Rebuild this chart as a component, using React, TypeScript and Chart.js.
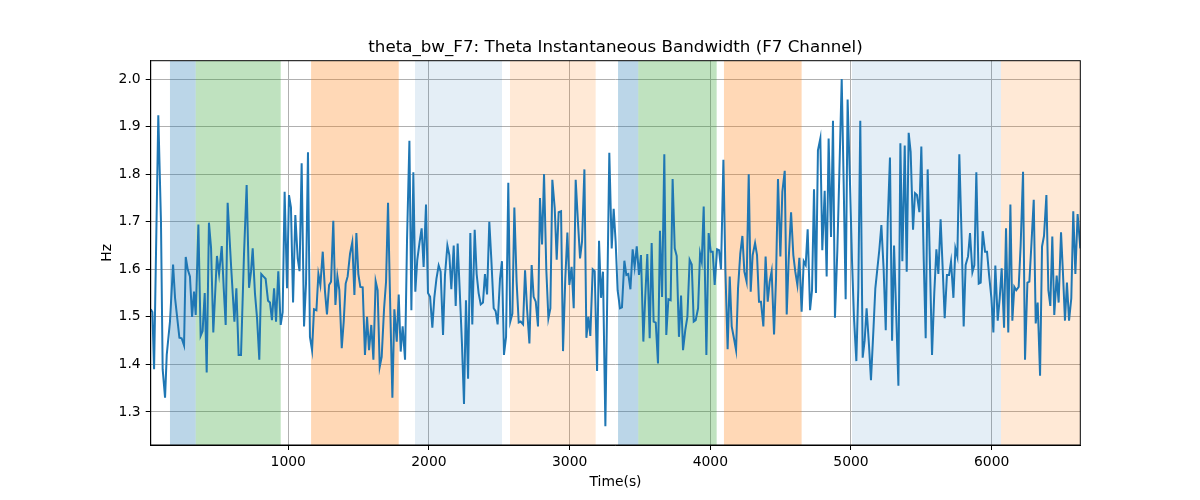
import { useEffect, useRef } from "react";
import { Chart, registerables } from "chart.js";

Chart.register(...registerables);

const chartTitle = "theta_bw_F7: Theta Instantaneous Bandwidth (F7 Channel)";
const xLabel = "Time(s)";
const yLabel = "Hz";

// sample times (s)
const timeSec = [
  22, 34, 46, 76, 95, 107, 124, 136, 159, 181, 195, 226, 242, 259, 271, 285, 301, 316, 330, 342,
  361, 377, 391, 406, 420, 436, 451, 467, 493, 508, 527, 541, 555, 569, 593, 617, 631, 647, 664, 685,
  704, 721, 735, 747, 763, 778, 794, 808, 823, 839, 856, 870, 884, 899, 913, 929, 946, 960, 974, 991,
  1005, 1019, 1034, 1050, 1067, 1080, 1095, 1112, 1126, 1140, 1154, 1169, 1183, 1200, 1214, 1228, 1245, 1261, 1275, 1290,
  1304, 1320, 1335, 1349, 1363, 1380, 1394, 1408, 1422, 1439, 1455, 1470, 1484, 1498, 1512, 1529, 1545, 1560, 1574, 1590,
  1605, 1621, 1635, 1650, 1664, 1681, 1695, 1709, 1726, 1740, 1754, 1771, 1785, 1799, 1813, 1830, 1844, 1861, 1875, 1889,
  1903, 1917, 1934, 1948, 1962, 1979, 1993, 2008, 2024, 2038, 2053, 2069, 2083, 2100, 2114, 2131, 2145, 2159, 2176, 2190,
  2204, 2218, 2235, 2249, 2263, 2278, 2294, 2308, 2325, 2339, 2353, 2368, 2384, 2398, 2413, 2429, 2443, 2460, 2474, 2488,
  2505, 2519, 2533, 2548, 2564, 2578, 2593, 2607, 2623, 2638, 2652, 2669, 2683, 2697, 2714, 2730, 2744, 2759, 2775, 2789,
  2804, 2818, 2834, 2849, 2863, 2877, 2894, 2908, 2922, 2939, 2953, 2969, 2984, 2998, 3014, 3029, 3043, 3059, 3074, 3088,
  3105, 3119, 3133, 3147, 3164, 3178, 3195, 3209, 3223, 3237, 3254, 3282, 3299, 3313, 3327, 3341, 3358, 3372, 3389, 3403,
  3417, 3432, 3448, 3462, 3477, 3493, 3507, 3524, 3538, 3552, 3569, 3583, 3597, 3612, 3628, 3642, 3657, 3673, 3687, 3702,
  3718, 3732, 3747, 3761, 3777, 3792, 3806, 3822, 3837, 3853, 3868, 3882, 3896, 3913, 3927, 3939, 3953, 3972, 3988, 4003,
  4017, 4031, 4048, 4062, 4076, 4093, 4107, 4123, 4138, 4152, 4168, 4183, 4197, 4213, 4228, 4242, 4258, 4273, 4287, 4301,
  4318, 4332, 4346, 4360, 4377, 4393, 4408, 4422, 4436, 4453, 4467, 4481, 4498, 4512, 4529, 4543, 4557, 4574, 4590, 4604,
  4619, 4633, 4649, 4664, 4678, 4692, 4709, 4723, 4737, 4751, 4765, 4782, 4796, 4813, 4827, 4841, 4858, 4872, 4886, 4903,
  4917, 4934, 4948, 4962, 4976, 4993, 5007, 5021, 5038, 5052, 5066, 5083, 5097, 5111, 5128, 5142, 5159, 5173, 5187, 5201,
  5216, 5232, 5247, 5261, 5277, 5292, 5306, 5322, 5337, 5351, 5365, 5382, 5396, 5410, 5424, 5441, 5455, 5469, 5486, 5500,
  5517, 5531, 5545, 5562, 5576, 5592, 5607, 5621, 5637, 5652, 5666, 5682, 5697, 5711, 5728, 5742, 5756, 5770, 5787, 5801,
  5815, 5832, 5846, 5863, 5877, 5891, 5908, 5922, 5936, 5953, 5967, 5981, 5998, 6012, 6026, 6043, 6057, 6071, 6088, 6102,
  6118, 6133, 6147, 6161, 6175, 6192, 6206, 6223, 6237, 6254, 6268, 6282, 6299, 6313, 6327, 6344, 6358, 6372, 6389, 6403,
  6417, 6431, 6445, 6462, 6476, 6493, 6507, 6521, 6535, 6550, 6566, 6580, 6595, 6611, 6630,
];

// instantaneous bandwidth (Hz)
const bandwidthHz = [
  1.516, 1.51, 1.39, 1.924, 1.70, 1.39, 1.33, 1.42, 1.49, 1.61, 1.54, 1.456, 1.455, 1.44, 1.626, 1.60, 1.585, 1.50, 1.553, 1.504,
  1.694, 1.46, 1.47, 1.55, 1.383, 1.698, 1.645, 1.467, 1.628, 1.59, 1.649, 1.56, 1.483, 1.74, 1.609, 1.49, 1.56, 1.42, 1.42, 1.63,
  1.777, 1.561, 1.595, 1.644, 1.55, 1.497, 1.41, 1.59, 1.585, 1.58, 1.534, 1.53, 1.493, 1.56, 1.49, 1.596, 1.483, 1.51, 1.763, 1.56,
  1.756, 1.73, 1.53, 1.714, 1.623, 1.596, 1.823, 1.48, 1.57, 1.846, 1.458, 1.43, 1.516, 1.514, 1.59, 1.567, 1.637, 1.553, 1.505, 1.567,
  1.574, 1.702, 1.525, 1.585, 1.556, 1.434, 1.49, 1.57, 1.585, 1.633, 1.657, 1.546, 1.676, 1.59, 1.563, 1.562, 1.42, 1.50, 1.43, 1.483,
  1.41, 1.575, 1.556, 1.395, 1.416, 1.518, 1.574, 1.74, 1.504, 1.33, 1.516, 1.448, 1.547, 1.427, 1.48, 1.41, 1.66, 1.87, 1.514, 1.804,
  1.553, 1.62, 1.658, 1.686, 1.605, 1.736, 1.55, 1.542, 1.477, 1.54, 1.58, 1.608, 1.595, 1.462, 1.588, 1.65, 1.63, 1.558, 1.65, 1.523,
  1.654, 1.56, 1.44, 1.317, 1.535, 1.37, 1.676, 1.484, 1.683, 1.59, 1.55, 1.526, 1.53, 1.59, 1.547, 1.70, 1.623, 1.518, 1.512, 1.484,
  1.58, 1.617, 1.42, 1.458, 1.782, 1.49, 1.507, 1.73, 1.574, 1.488, 1.49, 1.484, 1.598, 1.518, 1.444, 1.609, 1.542, 1.532, 1.48, 1.75,
  1.652, 1.80, 1.60, 1.497, 1.518, 1.788, 1.728, 1.62, 1.72, 1.722, 1.428, 1.58, 1.677, 1.567, 1.605, 1.518, 1.788, 1.70, 1.623, 1.658,
  1.81, 1.456, 1.50, 1.46, 1.60, 1.596, 1.386, 1.66, 1.54, 1.595, 1.27, 1.845, 1.644, 1.727, 1.658, 1.556, 1.518, 1.52, 1.618, 1.588,
  1.59, 1.558, 1.642, 1.605, 1.648, 1.588, 1.63, 1.448, 1.546, 1.632, 1.455, 1.655, 1.49, 1.488, 1.402, 1.681, 1.542, 1.842, 1.462, 1.537,
  1.535, 1.79, 1.644, 1.628, 1.458, 1.545, 1.43, 1.472, 1.50, 1.62, 1.61, 1.49, 1.493, 1.518, 1.633, 1.616, 1.732, 1.42, 1.676, 1.637,
  1.637, 1.567, 1.642, 1.64, 1.60, 1.83, 1.60, 1.432, 1.585, 1.48, 1.455, 1.43, 1.56, 1.633, 1.67, 1.595, 1.574, 1.80, 1.553, 1.63,
  1.655, 1.63, 1.532, 1.532, 1.48, 1.627, 1.532, 1.574, 1.596, 1.463, 1.58, 1.79, 1.627, 1.763, 1.807, 1.505, 1.62, 1.72, 1.63, 1.595,
  1.567, 1.624, 1.511, 1.617, 1.609, 1.684, 1.514, 1.556, 1.768, 1.55, 1.85, 1.875, 1.64, 1.765, 1.585, 1.875, 1.668, 1.912, 1.498, 1.64,
  1.80, 2.0, 1.78, 1.537, 1.957, 1.78, 1.62, 1.50, 1.407, 1.56, 1.912, 1.414, 1.45, 1.518, 1.44, 1.367, 1.47, 1.56, 1.60, 1.64,
  1.693, 1.60, 1.472, 1.70, 1.835, 1.45, 1.65, 1.50, 1.355, 1.865, 1.617, 1.86, 1.595, 1.887, 1.847, 1.683, 1.76, 1.756, 1.72, 1.858,
  1.62, 1.455, 1.81, 1.60, 1.42, 1.55, 1.642, 1.59, 1.705, 1.60, 1.497, 1.588, 1.588, 1.616, 1.54, 1.644, 1.627, 1.842, 1.66, 1.48,
  1.609, 1.627, 1.676, 1.594, 1.609, 1.804, 1.57, 1.572, 1.68, 1.637, 1.637, 1.59, 1.54, 1.467, 1.608, 1.492, 1.539, 1.602, 1.477, 1.686,
  1.467, 1.736, 1.492, 1.563, 1.556, 1.563, 1.65, 1.805, 1.41, 1.572, 1.574, 1.65, 1.746, 1.486, 1.53, 1.376, 1.648, 1.67, 1.756, 1.556,
  1.523, 1.669, 1.504, 1.587, 1.53, 1.678, 1.59, 1.492, 1.572, 1.492, 1.539, 1.722, 1.59, 1.716, 1.644,
];

// shaded intervals (start, end in s) and their fills
const spanStart = [159, 342, 1162, 1901, 2576, 3344, 3488, 4097, 5007, 6066];
const spanEnd = [342, 946, 1785, 2519, 3185, 3488, 4045, 4649, 6066, 6630];
const spanFill = [
  "rgba(31,119,180,0.3)",
  "rgba(44,160,44,0.3)",
  "rgba(255,127,14,0.3)",
  "rgba(31,119,180,0.12)",
  "rgba(255,127,14,0.17)",
  "rgba(31,119,180,0.3)",
  "rgba(44,160,44,0.3)",
  "rgba(255,127,14,0.3)",
  "rgba(31,119,180,0.12)",
  "rgba(255,127,14,0.17)",
];

const xTicks = [1000, 2000, 3000, 4000, 5000, 6000];
const yTicks = [1.3, 1.4, 1.5, 1.6, 1.7, 1.8, 1.9, 2.0];

const FONT = "'DejaVu Sans', sans-serif";

const spansPlugin = {
  id: "spans",
  beforeDatasetsDraw(chart: any) {
    const { ctx, chartArea, scales } = chart;
    ctx.save();
    ctx.beginPath();
    ctx.rect(chartArea.left, chartArea.top, chartArea.right - chartArea.left, chartArea.bottom - chartArea.top);
    ctx.clip();
    spanStart.forEach((s, i) => {
      const x0 = scales.x.getPixelForValue(s);
      const x1 = scales.x.getPixelForValue(spanEnd[i]);
      ctx.fillStyle = spanFill[i];
      ctx.fillRect(x0, chartArea.top, x1 - x0, chartArea.bottom - chartArea.top);
    });
    ctx.restore();
  },
  afterDraw(chart: any) {
    const { ctx, chartArea } = chart;
    ctx.save();
    ctx.strokeStyle = "#000";
    ctx.lineWidth = 1;
    ctx.strokeRect(chartArea.left, chartArea.top, chartArea.right - chartArea.left, chartArea.bottom - chartArea.top);
    ctx.fillStyle = "#000";
    ctx.textAlign = "center";
    ctx.textBaseline = "alphabetic";
    const cx = (chartArea.left + chartArea.right) / 2;
    ctx.font = `16.7px ${FONT}`;
    ctx.fillText(chartTitle, cx, chartArea.top - 8.3);
    ctx.font = `13.9px ${FONT}`;
    ctx.fillText(xLabel, cx, 486);
    ctx.translate(111, (chartArea.top + chartArea.bottom) / 2);
    ctx.rotate(-Math.PI / 2);
    ctx.fillText(yLabel, 0, 0);
    ctx.restore();
  },
};

export default function App() {
  const canvasRef = useRef<HTMLCanvasElement | null>(null);

  useEffect(() => {
    document.body.style.margin = "0";
    const ctx = canvasRef.current!.getContext("2d")!;
    const chart = new Chart(ctx, {
      type: "line",
      data: {
        datasets: [
          {
            label: "theta_bw_F7",
            data: timeSec.map((t, i) => ({ x: t, y: bandwidthHz[i] })),
            borderColor: "#1f77b4",
            borderWidth: 2,
            pointRadius: 0,
            tension: 0,
            fill: false,
          },
        ],
      },
      options: {
        responsive: false,
        animation: false,
        devicePixelRatio: 1,
        layout: { padding: { left: 0, right: 119.7, top: 60.7, bottom: 0 } },
        plugins: {
          legend: { display: false },
          title: { display: false },
          tooltip: { enabled: false },
        },
        scales: {
          x: {
            type: "linear",
            min: timeSec[0],
            max: timeSec[timeSec.length - 1],
            afterBuildTicks: (s: any) => {
              s.ticks = xTicks.map((v) => ({ value: v }));
            },
            afterFit: (s: any) => {
              s.height = 55;
            },
            ticks: {
              color: "#000",
              font: { family: FONT, size: 13.9 },
              padding: 4,
              maxRotation: 0,
              autoSkip: false,
              callback: (v: any) => String(v),
            },
            grid: { color: "#b0b0b0", lineWidth: 1, tickColor: "#000", tickLength: 5 },
            border: { color: "#000", width: 1 },
          },
          y: {
            type: "linear",
            min: 1.2306,
            max: 2.0385,
            afterBuildTicks: (s: any) => {
              s.ticks = yTicks.map((v) => ({ value: v }));
            },
            afterFit: (s: any) => {
              s.width = 150.7;
            },
            ticks: {
              color: "#000",
              font: { family: FONT, size: 13.9 },
              padding: 5,
              autoSkip: false,
              callback: (v: any) => Number(v).toFixed(1),
            },
            grid: { color: "#b0b0b0", lineWidth: 1, tickColor: "#000", tickLength: 5 },
            border: { color: "#000", width: 1 },
          },
        },
      },
      plugins: [spansPlugin],
    });
    return () => {
      chart.destroy();
    };
  }, []);

  return (
    <div style={{ width: 1200, height: 500 }}>
      <canvas ref={canvasRef} width={1200} height={500} />
    </div>
  );
}
